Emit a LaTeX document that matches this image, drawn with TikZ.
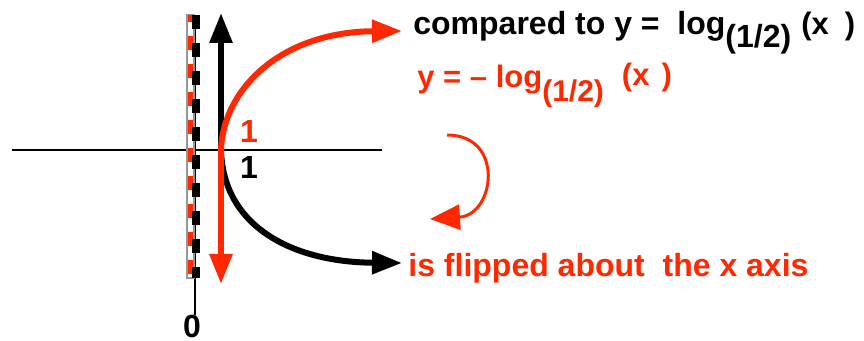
\documentclass[tikz,border=0pt]{standalone}
\usepackage{fontspec}
\setmainfont{Liberation Sans}
\usetikzlibrary{arrows.meta}
\definecolor{flipred}{RGB}{255,40,0}
\definecolor{asymgrey}{RGB}{150,150,150}
\begin{document}
\begin{tikzpicture}[x=0.5pt,y=-0.5pt,
  every node/.style={font=\fontsize{16}{19}\selectfont\bfseries,inner sep=0pt},
  axis/.style={line width=1pt,black},
  curve/.style={line width=3pt,-{Triangle[length=15pt,width=11pt]}},
  turn/.style={flipred,line width=1.5pt,-{Triangle[length=15pt,width=12.5pt]}},
  txt/.style={anchor=base west}]
\useasboundingbox (0,0) rectangle (864,341);
\coordinate (one) at (221,150);
\coordinate (up) at (221,13);
\coordinate (down) at (221,284);
\coordinate (redend) at (402,31);
\coordinate (blackend) at (402,263);
\coordinate (turnstart) at (447,135);
\coordinate (turnend) at (430,219);
\draw[axis] (12,150) -- (382,150);
\draw[axis] (195,15) -- (195,315);
\draw[asymgrey,line width=0.6pt,fill=white] (187,15) rectangle (194,278);
\draw[flipred,line width=2.6pt,dash pattern=on 7pt off 7pt,dash phase=3.5pt] (190.5,15) -- (190.5,278);
\draw[black,line width=4pt,dash pattern=on 7pt off 7pt] (196,15) -- (196,278);
\draw[curve] (one) -- (up);
\draw[curve] (one) .. controls (223,225) and (290,262) .. (blackend);
\draw[curve,flipred] (one) -- (down);
\draw[curve,flipred] (one) .. controls (223,90) and (280,32) .. (redend);
\draw[turn] (turnstart) .. controls (505,135) and (495,215) .. (turnend);
\node[flipred] (onered) at (249,131) {1};
\node (oneblack) at (249,167) {1};
\node (zero) at (192,326) {0};
\node[txt] (compare) at (413,35) {compared to y =\ \ log\raisebox{-6.5pt}{\fontsize{16}{19}\selectfont(1/2)}\hspace{5pt}{\fontsize{15.5}{18}\selectfont(x\hspace{8pt})}};
\node[txt,flipred] (neglog) at (417,88) {\fontsize{15.5}{18}\selectfont y = – log\raisebox{-7pt}{\fontsize{15}{18}\selectfont(1/2)}\hspace{9pt}\raisebox{1.2pt}{(x\hspace{6pt})}};
\node[txt,flipred] (flip) at (408,277) {is flipped about\ \ the x axis};
\end{tikzpicture}
\end{document}
